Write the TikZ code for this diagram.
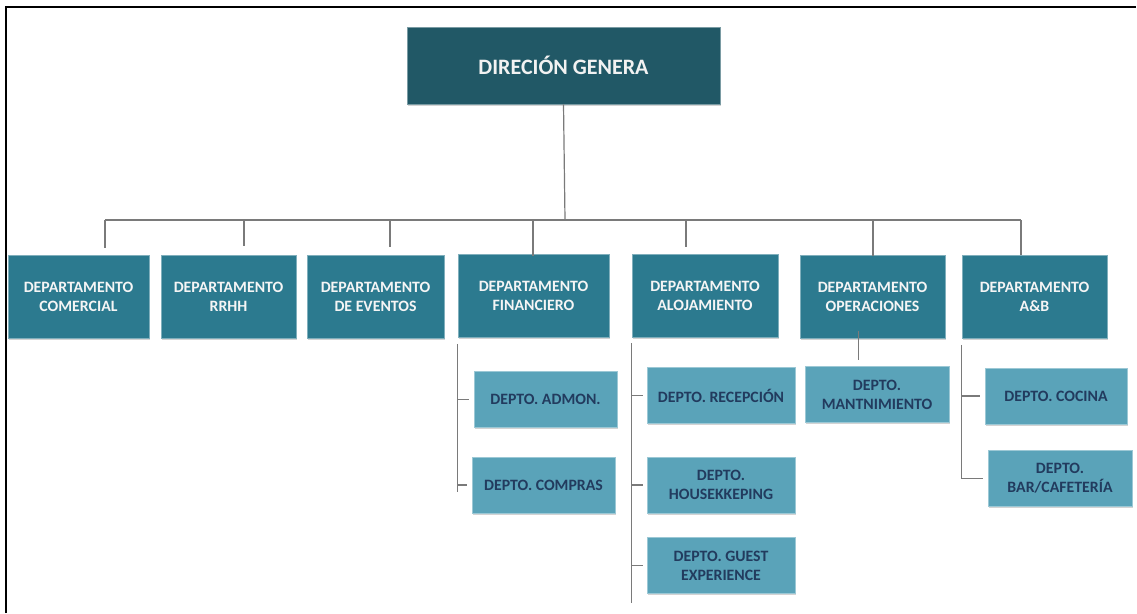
\documentclass[tikz,border=0pt]{standalone}
\usepackage{tikz}
\usepackage{xcolor}
\usepackage{fontspec}
\setmainfont{Carlito}
\usetikzlibrary{shadows}

\definecolor{tealdark}{HTML}{215866}
\definecolor{tealmid}{HTML}{2C7A8F}
\definecolor{teallight}{HTML}{5AA3B9}
\definecolor{navytext}{HTML}{223B5E}
\definecolor{linegray}{HTML}{7A7A7A}

\tikzset{
	boxbase/.style={rectangle, inner sep=0pt, align=center, font=\bfseries,
		drop shadow={shadow xshift=1pt, shadow yshift=-1.5pt, opacity=0.35}},
	jefe/.style={boxbase, fill=tealdark, draw=tealdark!60!white, line width=0.6pt,
		text=white!90!gray, font=\bfseries\fontsize{22}{25}\selectfont},
	depto/.style={boxbase, fill=tealmid, draw=tealmid!60!white, line width=0.6pt,
		text=white!92!gray, minimum height=83pt, font=\bfseries\fontsize{15.8}{19}\selectfont},
	sub/.style={boxbase, fill=teallight, draw=teallight!60!white, line width=0.6pt,
		text=navytext, minimum height=56pt, font=\bfseries\fontsize{15.8}{19}\selectfont},
	conn/.style={draw=linegray, line width=1.2pt}
}

\begin{document}
\begin{tikzpicture}[x=1pt,y=-1pt]
			% marco
			\useasboundingbox (0,0) rectangle (1137,613);
			\draw[line width=2pt] (6,613) -- (6,7) -- (1136,7);
			
			% nodos
			
			\node[jefe, minimum width=313pt, minimum height=77pt] (dg) at (563.5,65.5) {DIRECIÓN GENERA};
			
			\node[depto, minimum width=141pt] (com) at (78.5,296.5) {DEPARTAMENTO\\COMERCIAL};
			\node[depto, minimum width=135pt] (rrhh) at (228.5,297) {DEPARTAMENTO\\RRHH};
			\node[depto, minimum width=137pt] (eve) at (375.5,297) {DEPARTAMENTO\\DE EVENTOS};
			\node[depto, minimum width=151pt] (fin) at (533.5,296) {DEPARTAMENTO\\FINANCIERO};
			\node[depto, minimum width=146pt] (alo) at (705,295.5) {DEPARTAMENTO\\ALOJAMIENTO};
			\node[depto, minimum width=145pt] (ope) at (872.5,297) {DEPARTAMENTO\\OPERACIONES};
			\node[depto, minimum width=145pt] (ayb) at (1034.5,297) {DEPARTAMENTO\\A\&B};
			
			\node[sub, minimum width=143pt] (adm) at (545.5,399.5) {DEPTO. ADMON.};
			\node[sub, minimum width=143pt] (comp) at (543.5,485) {DEPTO. COMPRAS};
			\node[sub, minimum width=148pt] (rec) at (721,395.5) {DEPTO. RECEPCIÓN};
			\node[sub, minimum width=148pt] (hou) at (721,485) {DEPTO.\\HOUSEKKEPING};
			\node[sub, minimum width=148pt] (gue) at (721,565.5) {DEPTO. GUEST\\EXPERIENCE};
			\node[sub, minimum width=144pt] (man) at (877,394.5) {DEPTO.\\MANTNIMIENTO};
			\node[sub, minimum width=142pt] (coc) at (1056,396) {DEPTO. COCINA};
			\node[sub, minimum width=144pt] (bar) at (1060,478.5) {DEPTO.\\BAR/CAFETERÍA};
			
			% lineas
			
			\coordinate (bus) at (565,220);
			\coordinate (b1) at (105,220);
			\coordinate (b2) at (244,220);
			\coordinate (b3) at (390,220);
			\coordinate (b4) at (533,220);
			\coordinate (b5) at (686,220);
			\coordinate (b6) at (873,220);
			\coordinate (b7) at (1021,220);
			
			\draw[conn] (dg.south) -- (bus);
			\draw[conn] (b1) -- (b7);
			\draw[conn] (b1) -- ([yshift=7pt]b1 |- com.north);
			\draw[conn] (b2) -- ([yshift=9pt]b2 |- rrhh.north);
			\draw[conn] (b3) -- ([yshift=8pt]b3 |- eve.north);
			\draw[conn] (b4) -- ([yshift=-2pt]b4 |- fin.north);
			\draw[conn] (b5) -- ([yshift=7pt]b5 |- alo.north);
			\draw[conn] (b6) -- ([yshift=-1pt]b6 |- ope.north);
			\draw[conn] (b7) -- (b7 |- ayb.north);
			
			% financiero
			\draw[conn] ([yshift=-6pt]fin.south west) -- ([yshift=-7pt]fin.south west |- comp.west);
			\draw[conn] ([xshift=-5pt]adm.west) -- (adm.west -| fin.south west);
			\draw[conn] ([xshift=-5pt]comp.west) -- (comp.west -| fin.south west);
			
			% alojamiento
			\draw[conn] ([yshift=-6pt]alo.south west) -- ([yshift=-9pt]alo.south west |- gue.south);
			\draw[conn] ([xshift=-4pt]rec.west) -- (rec.west -| alo.south west);
			\draw[conn] ([xshift=-4pt]hou.west) -- (hou.west -| alo.south west);
			\draw[conn] ([xshift=-4pt]gue.west) -- (gue.west -| alo.south west);
			
			% operaciones
			\draw[conn] ([xshift=-14pt,yshift=8pt]ope.south) -- ([xshift=-14pt,yshift=6pt]ope.south |- man.north);
			
			% a&b
			\draw[conn] ([yshift=-6pt]ayb.south west) |- ([xshift=-5pt]bar.west);
			\draw[conn] ([xshift=-5pt]coc.west) -- (coc.west -| ayb.south west);
			
		\end{tikzpicture}
\end{document}
